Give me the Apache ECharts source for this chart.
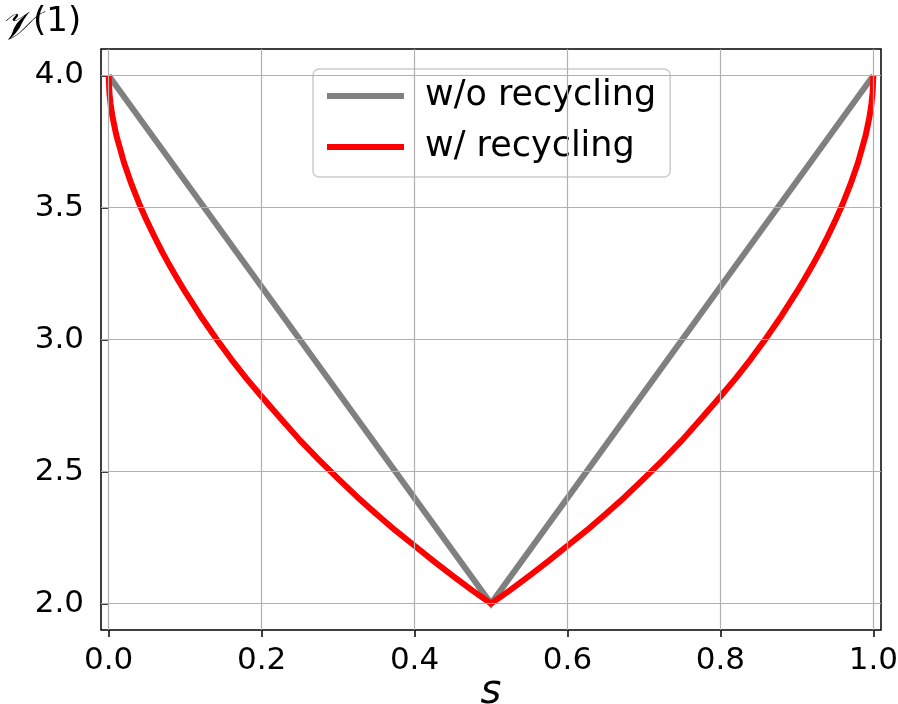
<!DOCTYPE html>
<html><head><meta charset="utf-8">
<script src="https://cdn.jsdelivr.net/npm/echarts@6/dist/echarts.min.js"></script>
<style>html,body{margin:0;padding:0;background:#fff}#c{width:898px;height:704px}</style>
</head><body><div id="c"></div>
<script>
const seriesNames = ['w/o recycling', 'w/ recycling'];
const grayS = [0, 0.5, 1];
const grayV = [4.0, 2.0, 4.0];
const redS = [0, 0.001, 0.0025, 0.005, 0.01, 0.02, 0.03, 0.04, 0.05, 0.06, 0.07, 0.08, 0.09, 0.1, 0.12, 0.14, 0.16, 0.18, 0.2, 0.225, 0.25, 0.275, 0.3, 0.325, 0.35, 0.375, 0.4, 0.425, 0.45, 0.475, 0.5,
  0.525, 0.55, 0.575, 0.6, 0.625, 0.65, 0.675, 0.7, 0.725, 0.75, 0.775, 0.8, 0.82, 0.84, 0.86, 0.88, 0.9, 0.91, 0.92, 0.93, 0.94, 0.95, 0.96, 0.97, 0.98, 0.99, 0.995, 0.9975, 0.999, 1.0];
const redV = [4.0, 3.933, 3.892, 3.844, 3.774, 3.670, 3.587, 3.514, 3.449, 3.389, 3.332, 3.279, 3.229, 3.181, 3.090, 3.006, 2.927, 2.853, 2.784, 2.701, 2.619, 2.544, 2.473, 2.404, 2.339, 2.277, 2.219, 2.161, 2.105, 2.051, 2.0,
  2.051, 2.105, 2.161, 2.219, 2.277, 2.339, 2.404, 2.473, 2.544, 2.619, 2.701, 2.784, 2.853, 2.927, 3.006, 3.090, 3.181, 3.229, 3.279, 3.332, 3.389, 3.449, 3.514, 3.587, 3.670, 3.774, 3.844, 3.892, 3.933, 4.0];
const xTicks = [0.0, 0.2, 0.4, 0.6, 0.8, 1.0];
const yTicks = [2.0, 2.5, 3.0, 3.5, 4.0];
const xLabel = 's';
const yLabelMain = '𝒱';
const yLabelSup = '(1)';

const FONT = 'DejaVu Sans';
const chart = echarts.init(document.getElementById('c'), null, {renderer: 'canvas'});
const zip = (a, b) => a.map((v, i) => [v, b[i]]);

chart.setOption({
  animation: false,
  backgroundColor: '#fff',
  title: {
    text: '{a|' + yLabelMain + '}{b|' + yLabelSup + '}',
    left: 0, top: 5, padding: 0,
    textStyle: {
      fontWeight: 'normal',
      rich: {
        a: {fontSize: 40, fontFamily: FONT, fontStyle: 'italic', fontWeight: 'normal', color: '#000', verticalAlign: 'bottom', lineHeight: 44},
        b: {fontSize: 34, fontFamily: FONT, fontWeight: 'normal', color: '#000', verticalAlign: 'top', lineHeight: 40, padding: [0, 0, 0, 0]}
      }
    }
  },
  grid: {left: 101, right: 17, top: 49, bottom: 74, show: true, borderColor: '#000', borderWidth: 1.5, containLabel: false, outerBoundsMode: 'none'},
  legend: {
    orient: 'vertical', left: 313, top: 69,
    data: seriesNames,
    itemWidth: 77, itemHeight: 6, itemGap: 11,
    padding: [7, 14, 10, 11],
    backgroundColor: 'rgba(255,255,255,0.8)',
    borderColor: '#cccccc', borderWidth: 1.5, borderRadius: 6,
    itemStyle: {opacity: 0},
    lineStyle: {width: 6},
    textStyle: {fontSize: 35, fontFamily: FONT, color: '#000', lineHeight: 40, padding: [0, 0, 0, 16]}
  },
  xAxis: {
    type: 'value', min: -0.01, max: 1.01,
    name: xLabel, nameLocation: 'middle', nameGap: 43, nameMoveOverlap: false,
    nameTextStyle: {fontSize: 40, fontFamily: FONT, fontStyle: 'italic', color: '#000'},
    axisLine: {show: false},
    splitLine: {show: false},
    axisTick: {show: true, length: 7, lineStyle: {color: '#000', width: 1.5}, customValues: xTicks},
    axisLabel: {customValues: xTicks, formatter: v => v.toFixed(1), fontSize: 31, fontFamily: FONT, color: '#000', margin: 15}
  },
  yAxis: {
    type: 'value', min: 1.9, max: 4.1,
    axisLine: {show: false},
    splitLine: {show: false},
    axisTick: {show: true, length: 7, lineStyle: {color: '#000', width: 1.5}, customValues: yTicks},
    axisLabel: {customValues: yTicks, formatter: v => v.toFixed(1), fontSize: 31, fontFamily: FONT, color: '#000', margin: 17}
  },
  series: [
    {
      name: 'gridlines', type: 'line', data: [], z: 1, silent: true,
      markLine: {
        silent: true, symbol: 'none', animation: false,
        label: {show: false},
        lineStyle: {color: '#b0b0b0', width: 1.2, type: 'solid'},
        data: xTicks.map(v => ({xAxis: v})).concat(yTicks.map(v => ({yAxis: v})))
      }
    },
    {
      name: seriesNames[0], type: 'line', data: zip(grayS, grayV), z: 3,
      symbol: 'none', showSymbol: false,
      color: '#808080',
      lineStyle: {color: '#808080', width: 6, cap: 'butt', join: 'miter'}
    },
    {
      name: seriesNames[1], type: 'line', data: zip(redS, redV), z: 4,
      symbol: 'none', showSymbol: false, smooth: false,
      color: '#ff0000',
      lineStyle: {color: '#ff0000', width: 6, cap: 'butt', join: 'round'}
    }
  ]
});
</script>
</body></html>
